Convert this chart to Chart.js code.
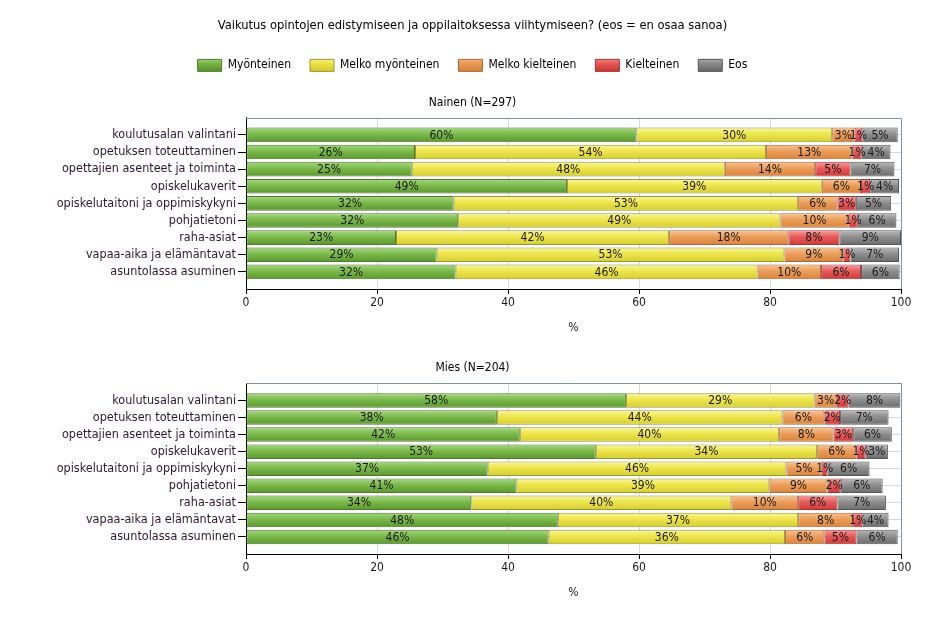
<!DOCTYPE html>
<html>
<head>
<meta charset="utf-8">
<script src="https://cdn.jsdelivr.net/npm/chart.js@4.4.1/dist/chart.umd.min.js"></script>
<style>
html,body{margin:0;padding:0;background:#fff;}
#wrap{position:relative;width:945px;height:627px;overflow:hidden;}
#c1{position:absolute;left:0;top:0;}
#c2{position:absolute;left:0;top:345px;}
</style>
</head>
<body>
<div id="wrap">
<canvas id="c1" width="945" height="345"></canvas>
<canvas id="c2" width="945" height="282"></canvas>
</div>
<script>
const mainTitle = 'Vaikutus opintojen edistymiseen ja oppilaitoksessa viihtymiseen? (eos = en osaa sanoa)';
const groupTitles = ['Nainen (N=297)', 'Mies (N=204)'];
const categories = ['koulutusalan valintani','opetuksen toteuttaminen','opettajien asenteet ja toiminta','opiskelukaverit','opiskelutaitoni ja oppimiskykyni','pohjatietoni','raha-asiat','vapaa-aika ja elämäntavat','asuntolassa asuminen'];
const seriesNames = ['Myönteinen','Melko myönteinen','Melko kielteinen','Kielteinen','Eos'];
const xTicks = [0,20,40,60,80,100];
const xTitle = '%';

const nainenMyonteinen      = [59.6,25.8,25.3,49.0,31.7,32.4,22.9,29.1,32.0];
const nainenMelkoMyonteinen = [29.9,53.6,47.8,38.9,52.6,49.2,41.7,53.1,46.1];
const nainenMelkoKielteinen = [3.4,13.2,13.8,6.0,6.0,10.4,18.2,9.0,9.7];
const nainenKielteinen      = [1.2,1.4,5.4,1.4,2.8,1.4,7.8,1.1,6.1];
const nainenEos             = [5.4,4.4,6.7,4.4,5.4,5.9,9.4,7.4,5.9];

const miesMyonteinen        = [58.0,38.3,41.8,53.4,36.9,41.3,34.4,47.6,46.2];
const miesMelkoMyonteinen   = [28.8,43.6,39.6,33.8,45.6,38.6,39.7,36.7,36.1];
const miesMelkoKielteinen   = [3.4,6.4,8.3,6.0,5.4,8.9,10.2,8.4,6.0];
const miesKielteinen        = [1.8,2.4,3.0,1.4,0.9,2.0,6.0,1.4,4.9];
const miesEos               = [7.9,7.4,5.9,3.4,6.4,6.4,7.4,4.0,6.3];

const FONT = '"DejaVu Sans Condensed", "DejaVu Sans", sans-serif';
Chart.defaults.font.family = FONT;
Chart.defaults.font.size = 12;
Chart.defaults.color = '#1a1a1a';

const palettes = [
  {stops:['#a8d888','#7cba4a','#5a9430'], border:'#4d7a2b'},
  {stops:['#faf7a8','#ede54a','#d4cc34'], border:'#9c9530'},
  {stops:['#f8c89a','#ec9d5a','#d6843e'], border:'#a56838'},
  {stops:['#f7a3a3','#e85a5a','#cc3a3a'], border:'#9e3434'},
  {stops:['#bdbdbd','#8e8e8e','#6c6c6c'], border:'#555555'}
];

function makeGrad(ctx2d, y0, y1, stops) {
  const g = ctx2d.createLinearGradient(0, y0, 0, y1);
  g.addColorStop(0, stops[0]);
  g.addColorStop(0.45, stops[1]);
  g.addColorStop(1, stops[2]);
  return g;
}

function barFill(stops) {
  return (c) => {
    const chart = c.chart;
    const ys = chart.scales && chart.scales.y;
    if (c.type !== 'data' || !ys || !chart.chartArea) return stops[1];
    const cy = ys.getPixelForValue(c.dataIndex);
    return makeGrad(chart.ctx, cy - 7.5, cy + 7.5, stops);
  };
}

const barLabels = {
  id: 'barLabels',
  afterDatasetsDraw(chart) {
    const ctx = chart.ctx;
    ctx.save();
    ctx.font = '12px ' + FONT;
    ctx.fillStyle = '#1a1a1a';
    ctx.textAlign = 'center';
    ctx.textBaseline = 'middle';
    chart.data.datasets.forEach((ds, di) => {
      const meta = chart.getDatasetMeta(di);
      meta.data.forEach((el, i) => {
        const v = ds.data[i].x;
        const p = el.getProps(['x','base','y'], true);
        ctx.fillText(Math.round(v) + '%', (p.x + p.base) / 2, p.y + 0.5);
      });
    });
    ctx.restore();
  }
};

const frame = {
  id: 'frame',
  afterDatasetsDraw(chart) {
    const {left, right, top, bottom} = chart.chartArea;
    const ctx = chart.ctx;
    ctx.save();
    ctx.strokeStyle = '#8392a2';
    ctx.lineWidth = 1;
    ctx.beginPath();
    ctx.moveTo(left, Math.round(top) + 0.5);
    ctx.lineTo(Math.round(right) + 0.5, Math.round(top) + 0.5);
    ctx.lineTo(Math.round(right) + 0.5, bottom);
    ctx.stroke();
    ctx.restore();
  }
};

function buildDatasets(series) {
  return series.map((arr, si) => ({
    label: seriesNames[si],
    data: arr.map((v, i) => ({x: v, y: i})),
    backgroundColor: barFill(palettes[si].stops),
    borderColor: palettes[si].border,
    borderWidth: 1,
    borderSkipped: false,
    barPercentage: 0.85,
    categoryPercentage: 1.0
  }));
}

function scalesConfig() {
  return {
    x: {
      type: 'linear', stacked: true, min: 0, max: 100,
      afterBuildTicks: (s) => { s.ticks = xTicks.map(v => ({value: v})); },
      afterFit: (s) => { s.height = 50; },
      grid: {color: '#d9d9d9', tickColor: '#000', tickLength: 5},
      border: {color: '#000', width: 1},
      ticks: {padding: 2, color: '#1a1a1a', font: {size: 12}},
      title: {display: true, text: xTitle, color: '#1a1a1a', font: {size: 12}, padding: {top: 4, bottom: 4}}
    },
    y: {
      type: 'linear', stacked: true, reverse: true, min: -1, max: 9, offset: false,
      afterBuildTicks: (s) => { s.ticks = categories.map((_, i) => ({value: i})); },
      afterFit: (s) => { s.width = 202; },
      grid: {color: '#d9d9d9', tickColor: '#000', tickLength: 8, offset: false},
      border: {color: '#000', width: 1},
      ticks: {padding: 2, color: '#2a1a2a', autoSkip: false, font: {size: 12.5},
        callback: (v) => categories[v]}
    }
  };
}

new Chart(document.getElementById('c1'), {
  type: 'bar',
  data: {datasets: buildDatasets([nainenMyonteinen, nainenMelkoMyonteinen, nainenMelkoKielteinen, nainenKielteinen, nainenEos])},
  options: {
    indexAxis: 'y', responsive: false, animation: false, devicePixelRatio: 1,
    layout: {padding: {left: 44, right: 44, top: 0, bottom: 6}},
    scales: scalesConfig(),
    plugins: {
      tooltip: {enabled: false},
      title: {display: true, text: mainTitle, color: '#000', font: {size: 12.8, weight: 'normal'}, padding: {top: 18, bottom: 7}},
      legend: {
        display: true, position: 'top',
        labels: {
          boxWidth: 24, boxHeight: 12, padding: 19, color: '#1a1a1a', font: {size: 12},
          generateLabels: (chart) => chart.data.datasets.map((ds, i) => ({
            text: ds.label,
            fillStyle: makeGrad(chart.ctx, 57, 70, palettes[i].stops),
            strokeStyle: palettes[i].border,
            lineWidth: 1,
            hidden: false,
            datasetIndex: i
          }))
        }
      },
      subtitle: {display: true, text: groupTitles[0], color: '#000', weight: 500, font: {size: 12, weight: 'normal'}, padding: {top: 14.5, bottom: 7.5}}
    }
  },
  plugins: [barLabels, frame]
});

new Chart(document.getElementById('c2'), {
  type: 'bar',
  data: {datasets: buildDatasets([miesMyonteinen, miesMelkoMyonteinen, miesMelkoKielteinen, miesKielteinen, miesEos])},
  options: {
    indexAxis: 'y', responsive: false, animation: false, devicePixelRatio: 1,
    layout: {padding: {left: 44, right: 44, top: 0, bottom: 23}},
    scales: scalesConfig(),
    plugins: {
      tooltip: {enabled: false},
      legend: {display: false},
      title: {display: true, text: groupTitles[1], color: '#000', font: {size: 12, weight: 'normal'}, padding: {top: 16, bottom: 8}}
    }
  },
  plugins: [barLabels, frame]
});
</script>
</body>
</html>
